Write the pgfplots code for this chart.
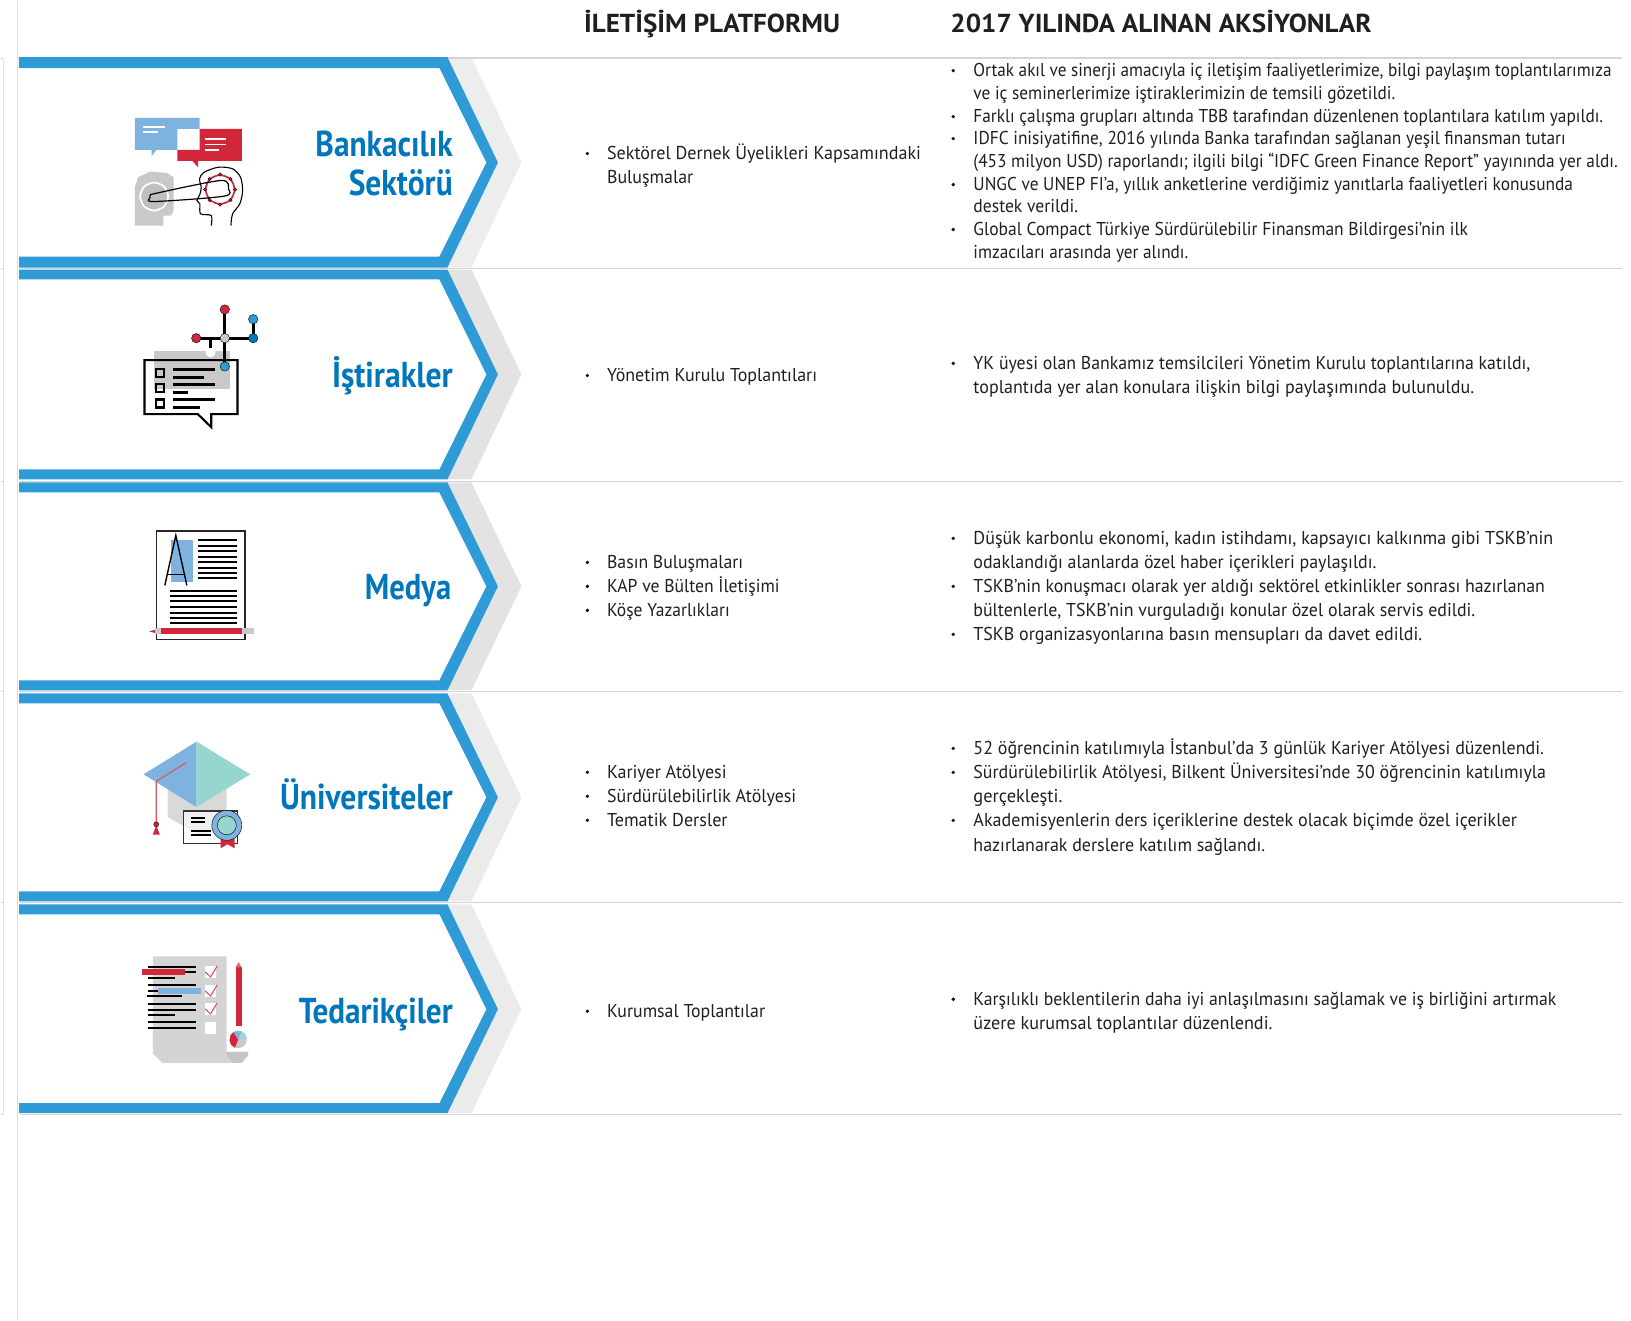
\documentclass[border=0pt]{standalone}
\usepackage{pgfplots}
\pgfplotsset{compat=1.18}
\usepackage{graphicx}
\usepackage{fontspec}
\setmainfont{PT Sans}
\newfontfamily\titlefont[FakeStretch=0.82]{PT Sans}
\newfontfamily\headfont{PT Sans}
\definecolor{barblue}{HTML}{2E9AD6}
\definecolor{textblue}{HTML}{0076BD}
\definecolor{lblue}{HTML}{7EB3E0}
\definecolor{tred}{HTML}{D2273A}
\definecolor{teal}{HTML}{97D5CF}
\definecolor{txt}{HTML}{1F1F1F}
\newcommand\poly[2]{\addplot[fill=#1,draw=none] coordinates {#2} --cycle;}
\newcommand\seg[2][black,line width=2.7pt]{\addplot[#1] coordinates {#2};}
\newcommand\dts[3]{\addplot[only marks,mark=*,mark size=#2,mark options={fill=#1,draw=none}] coordinates {#3};}
% #1 x, #2 baseline y, #3 right end of the line (in 1568-wide units), #4 text
\newcommand\tl[4]{\node[anchor=base west,inner sep=0pt,font=\fontsize{18.6}{22}\selectfont,text=txt] at (axis cs:#1,#2) {\pgfmathsetlengthmacro\tgtw{(#3*1.0402-#1)*1pt}\resizebox{\tgtw}{\height}{#4}};}
\newcommand\bul[2]{\dts{txt}{1.5}{(#1,#2)}}
\newcommand\ttl[4]{\node[anchor=base east,inner sep=0pt,font=\fontsize{36}{40}\titlefont\bfseries,text=textblue] at (axis cs:#1,#2) {\pgfmathsetlengthmacro\tgtw{#3*1.0402*1pt}\resizebox{\tgtw}{\height}{#4}};}
\newcommand\hd[4]{\node[anchor=base west,inner sep=0pt,font=\fontsize{26}{30}\headfont\bfseries,text=txt] at (axis cs:#1,#2) {\pgfmathsetlengthmacro\tgtw{#3*1.0402*1pt}\resizebox{\tgtw}{\height}{#4}};}
\begin{document}
\begin{tikzpicture}
\begin{axis}[width=1631pt,height=1320pt,scale only axis,hide axis,clip=false,
  xmin=0,xmax=1631,ymin=0,ymax=1320,y dir=reverse]
\path (axis cs:0,0) rectangle (axis cs:1631,1320);
% frame lines
\seg[black!13,line width=1.2pt]{(17,0)(17,1320)}
\seg[blue!12,line width=0.8pt]{(3,57)(3,1114)}
% gray chevrons
\poly{black!7}{(447,57)(471,57)(521,162)(471,267)(447,267)(497,162)}
\poly{black!11}{(447,269)(471,269)(521,374)(471,479)(447,479)(497,374)}
\poly{black!11}{(447,482)(471,482)(521,586)(471,690)(447,690)(497,586)}
\poly{black!8}{(447,693)(471,693)(521,797)(471,901)(447,901)(497,797)}
\poly{black!8}{(447,904)(471,904)(521,1009)(471,1113)(447,1113)(497,1009)}
% rules
\seg[black!17,line width=1.2pt]{(19,57.5)(1622,57.5)}
\seg[black!17,line width=1.2pt]{(19,268)(1622,268)}
\seg[black!17,line width=1.2pt]{(19,481)(1622,481)}
\seg[black!17,line width=1.2pt]{(19,691)(1622,691)}
\seg[black!17,line width=1.2pt]{(19,902)(1622,902)}
\seg[black!17,line width=1.2pt]{(19,1114)(1622,1114)}
\seg[black!17,line width=1.2pt]{(0,58)(3,58)}
\seg[black!17,line width=1.2pt]{(0,268)(3,268)}
\seg[black!17,line width=1.2pt]{(0,481)(3,481)}
\seg[black!17,line width=1.2pt]{(0,691)(3,691)}
\seg[black!17,line width=1.2pt]{(0,902)(3,902)}
\seg[black!17,line width=1.2pt]{(0,1114)(3,1114)}
% blue chevrons
\poly{barblue}{(18.5,56.5)(447,56.5)(497.5,162)(447,267)(18.5,267)(18.5,256)(439,256)(486,162)(439,67.5)(18.5,67.5)}
\poly{barblue}{(18.5,269)(447,269)(497.5,374)(447,479)(18.5,479)(18.5,469)(439,469)(486,374)(439,279)(18.5,279)}
\poly{barblue}{(18.5,482)(447,482)(497.5,586)(447,690)(18.5,690)(18.5,680)(439,680)(486,586)(439,492)(18.5,492)}
\poly{barblue}{(18.5,693)(447,693)(497.5,797)(447,901)(18.5,901)(18.5,891)(439,891)(486,797)(439,703)(18.5,703)}
\poly{barblue}{(18.5,904)(447,904)(497.5,1009)(447,1113)(18.5,1113)(18.5,1103)(439,1103)(486,1009)(439,914)(18.5,914)}
% icon 1
\poly{lblue}{(134.3,117.3)(199,117.3)(199,128.3)(176.8,128.3)(176.8,149.3)(156,149.3)(151,155.7)(151,149.3)(134.3,149.3)}
\poly{tred}{(199,128.3)(241.4,128.3)(241.4,160.3)(197.5,160.3)(197.5,166.7)(191.8,160.3)(176.8,160.3)(176.8,149.3)(199,149.3)}
\seg[white,line width=1.6pt]{(142,126.7)(164,126.7)}
\seg[white,line width=1.6pt]{(142,131.7)(157,131.7)}
\seg[white,line width=1.6pt]{(204,138.7)(225,138.7)}
\seg[white,line width=1.6pt]{(204,144)(225,144)}
\seg[white,line width=1.6pt]{(204,149.7)(218.6,149.7)}
\poly{black!21}{(134.3,225)(162.9,225)(162.9,215)(170.7,215)(173.2,210)(173.2,176.7)(166,172.3)(150,171)(137.5,176.7)(134.3,186.7)}
\addplot[white,fill=black!25,line width=1.8pt,smooth cycle] coordinates {(167.6,196)(163.5,186.1)(153.6,182)(143.7,186.1)(139.6,196)(143.7,205.9)(153.6,210)(163.5,205.9)};
\addplot[black,line width=1.1pt,smooth] coordinates {(210.7,225)(210.7,215)(200,213.3)(199.3,203.3)(196.4,200)(199.3,194)(200.7,186.7)(199,178.3)(203.6,171.7)(217.9,166.7)(232.1,168.3)(240,176.7)(242.1,190)(239.3,203.3)(232.1,213.3)(230.4,225)};
\addplot[tred,line width=1.7pt,smooth cycle] coordinates {(234.1,189)(229.9,178.7)(219.6,174.5)(209.3,178.7)(205.1,189)(209.3,199.3)(219.6,203.5)(229.9,199.3)};
\addplot[black,line width=1.2pt,smooth] coordinates {(150,194)(219.6,180)(227.9,188.3)(223.2,195.7)(153.6,201)(149.3,197.3)(150,194)};
\dts{tred}{1.7}{(219.6,174)(230,178.5)(234.6,189)(230,199.5)(219.6,204)(209,199.5)(204.6,189)(209,178.5)}
% icon 2
\poly{black!21}{(153,351)(229,351)(229,389)(153,389)}
\addplot[fill=white,draw=none,smooth cycle] coordinates {(215,351.7)(213.5,348.2)(210,346.7)(206.5,348.2)(205,351.7)(206.5,355.2)(210,356.7)(213.5,355.2)};
\addplot[black,line width=2.1pt] coordinates {(144,359.7)(237,359.7)(237,413.7)(210.7,413.7)(210.7,426.7)(197.3,413.7)(144,413.7)} --cycle;
\addplot[black,line width=2.1pt] coordinates {(155.7,368.3)(163.7,368.3)(163.7,376.3)(155.7,376.3)} --cycle;
\addplot[black,line width=2.1pt] coordinates {(155.7,383.3)(163.7,383.3)(163.7,391.3)(155.7,391.3)} --cycle;
\addplot[black,line width=2.1pt] coordinates {(155.7,399)(163.7,399)(163.7,407)(155.7,407)} --cycle;
\seg{(172,369.3)(214,369.3)}
\seg{(172,376.7)(203,376.7)}
\seg{(172,384.3)(214,384.3)}
\seg{(172,391.7)(187,391.7)}
\seg{(172,399.3)(214,399.3)}
\seg{(172,406.7)(199,406.7)}
\seg{(195.7,337.7)(252.7,337.7)}
\seg{(224.3,309)(224.3,366)}
\seg{(252.7,318.7)(252.7,337.7)}
\seg{(210,337.7)(210,348)}
\dts{black!21}{4.7}{(224.3,337.7)}
\dts{tred}{4.7}{(224.3,309)(195.7,337.7)}
\dts{barblue}{4.7}{(252.7,318.7)(224.3,366)}
\dts{textblue}{4.7}{(252.7,337.7)}
% icon 3
\addplot[black!85,line width=1.4pt] coordinates {(155.7,530.7)(244.3,530.7)(244.3,639.3)(155.7,639.3)} --cycle;
\poly{lblue}{(170,540)(192,540)(192,582)(170,582)}
\seg[black,line width=1.4pt]{(164.3,585)(175.3,535)(186.3,585)}
\seg[black,line width=1.4pt]{(167,574)(184.3,574)}
\seg[black,line width=1.9pt]{(197,539.7)(236,539.7)}
\seg[black,line width=1.9pt]{(197,545.7)(236,545.7)}
\seg[black,line width=1.9pt]{(197,551)(236,551)}
\seg[black,line width=1.9pt]{(197,556.7)(236,556.7)}
\seg[black,line width=1.9pt]{(197,562)(236,562)}
\seg[black,line width=1.9pt]{(197,567.7)(236,567.7)}
\seg[black,line width=1.9pt]{(197,573)(236,573)}
\seg[black,line width=1.9pt]{(197,578)(236,578)}
\seg[black,line width=1.9pt]{(169,590.7)(236,590.7)}
\seg[black,line width=1.9pt]{(169,595.7)(236,595.7)}
\seg[black,line width=1.9pt]{(169,601)(236,601)}
\seg[black,line width=1.9pt]{(169,607)(236,607)}
\seg[black,line width=1.9pt]{(169,612.7)(236,612.7)}
\seg[black,line width=1.9pt]{(169,617.3)(236,617.3)}
\seg[black,line width=1.9pt]{(169,622.7)(236,622.7)}
\poly{tred}{(160,628)(241,628)(241,634)(160,634)}
\poly{black!21}{(241,628)(253,628)(253,634)(241,634)}
\poly{black!21}{(154.3,628)(160,628)(160,634)(154.3,634)}
\poly{tred}{(154.3,629.5)(154.3,632.5)(148.3,631)}
% icon 4
\poly{black!15}{(167,788)(196,806.7)(226,788)(226,820)(210,833.3)(196,833.3)(167,816.7)}
\poly{lblue}{(143,774)(196,741.3)(196,806.7)}
\poly{teal}{(196,741.3)(249.7,774)(196,806.7)}
\seg[tred!80,line width=1.1pt]{(185.7,762.3)(155.7,781)(155.7,825)}
\dts{tred}{2.5}{(155.7,824)}
\poly{tred}{(155.7,825)(159.3,834.3)(152.3,834.3)}
\addplot[black!80,line width=1.3pt,fill=white,fill opacity=0.6] coordinates {(182.7,810.7)(237,810.7)(237,843.3)(182.7,843.3)} --cycle;
\seg[black,line width=1.9pt]{(190,818)(204,818)}
\seg[black,line width=1.9pt]{(190,822)(204,822)}
\seg[black,line width=1.9pt]{(190,830.7)(210,830.7)}
\seg[black,line width=1.9pt]{(190,835)(210,835)}
\poly{tred}{(220,837.3)(234,837.3)(234,848)(227,844)(220,848)}
\dts{lblue}{15}{(226.3,825)}
\dts{teal}{9.5}{(226.3,825)}
% icon 5
\poly{black!17}{(152.3,956)(226,956)(226,1051.7)(247.7,1051.7)(247.7,1055)(240,1062.7)(161.7,1062.7)(152.3,1053.3)}
\poly{black!23}{(226,1051.7)(247.7,1051.7)(247.7,1055)(241,1062.7)(233,1062.7)(226,1055)}
\seg[black,line width=1.9pt]{(147,967)(195,967)}
\seg[black,line width=1.9pt]{(147,972)(195,972)}
\seg[black,line width=1.9pt]{(147,985)(195,985)}
\seg[black,line width=1.9pt]{(147,991)(195,991)}
\seg[black,line width=1.9pt]{(147,1004)(195,1004)}
\seg[black,line width=1.9pt]{(147,1010)(195,1010)}
\seg[black,line width=1.9pt]{(147,1022)(195,1022)}
\seg[black,line width=1.9pt]{(147,1028)(195,1028)}
\seg[black,line width=1.9pt]{(147,978)(174,978)}
\seg[black,line width=1.9pt]{(146,996)(181,996)}
\seg[black,line width=1.9pt]{(147,1015)(174,1015)}
\poly{tred}{(141,969)(184,969)(184,975)(141,975)}
\poly{lblue}{(157,988)(200,988)(200,994)(157,994)}
\poly{white}{(204,966)(215,966)(215,978)(204,978)}
\poly{white}{(204,985)(215,985)(215,997)(204,997)}
\poly{white}{(204,1003)(215,1003)(215,1015)(204,1015)}
\poly{white}{(204,1022)(215,1022)(215,1034)(204,1034)}
\seg[tred!85,line width=1pt]{(204.7,971.7)(210,976.7)(216.7,965.7)}
\seg[tred!85,line width=1pt]{(204.7,990.7)(210,995.7)(216.7,984.7)}
\seg[tred!85,line width=1pt]{(204.7,1008.7)(210,1013.7)(216.7,1002.7)}
\poly{tred}{(235,967)(241,967)(241,1026)(235,1026)}
\poly{tred!70}{(235,967)(238,961.7)(241,967)}
\addplot[fill=black!21,draw=none,smooth cycle] coordinates {(246.4,1039.3)(243.9,1033.1)(237.7,1030.6)(231.5,1033.1)(229,1039.3)(231.5,1045.5)(237.7,1048)(243.9,1045.5)};
\poly{tred}{(237.7,1039.3)(233,1031.8)(230,1035)(229,1040)(230.5,1044.5)(234.5,1047.5)}
\poly{lblue}{(237.7,1039.3)(233,1031.8)(237,1030.6)(241,1031.2)}
\poly{teal}{(237.7,1039.3)(241,1031.2)(245,1034.5)(246.3,1038)}
% headers
\hd{583.6}{32}{246}{İLETİŞİM PLATFORMU}
\hd{950}{32}{405}{2017 YILINDA ALINAN AKSİYONLAR}
% titles
\ttl{452.5}{156}{132}{Bankacılık}
\ttl{452.5}{195}{100}{Sektörü}
\ttl{452.5}{387.5}{116}{İştirakler}
\ttl{451}{599}{83}{Medya}
\ttl{452.5}{809}{166}{Üniversiteler}
\ttl{452.5}{1023.5}{148}{Tedarikçiler}
% column 2
\bul{587}{153}\tl{606.5}{159}{885}{Sektörel Dernek Üyelikleri Kapsamındaki}
\tl{606.5}{183}{666}{Buluşmalar}
\bul{587}{375}\tl{606.5}{381}{785}{Yönetim Kurulu Toplantıları}
\bul{587}{562}\tl{606.5}{568}{714}{Basın Buluşmaları}
\bul{587}{586}\tl{606.5}{592}{749}{KAP ve Bülten İletişimi}
\bul{587}{610}\tl{606.5}{616}{701}{Köşe Yazarlıkları}
\bul{587}{772}\tl{606.5}{778}{698}{Kariyer Atölyesi}
\bul{587}{796}\tl{606.5}{802}{765}{Sürdürülebilirlik Atölyesi}
\bul{587}{820}\tl{606.5}{826}{699}{Tematik Dersler}
\bul{587}{1011}\tl{606.5}{1017}{735}{Kurumsal Toplantılar}
% column 3
\bul{953}{70}\tl{973}{76}{1549}{Ortak akıl ve sinerji amacıyla iç iletişim faaliyetlerimize, bilgi paylaşım toplantılarımıza}
\tl{973}{99}{1341}{ve iç seminerlerimize iştiraklerimizin de temsili gözetildi.}
\bul{953}{116}\tl{973}{122}{1541}{Farklı çalışma grupları altında TBB tarafından düzenlenen toplantılara katılım yapıldı.}
\bul{953}{138}\tl{973}{144}{1505}{IDFC inisiyatifine, 2016 yılında Banka tarafından sağlanan yeşil finansman tutarı}
\tl{973}{167}{1555}{(453 milyon USD) raporlandı; ilgili bilgi “IDFC Green Finance Report” yayınında yer aldı.}
\bul{953}{184}\tl{973}{190}{1512}{UNGC ve UNEP FI’a, yıllık anketlerine verdiğimiz yanıtlarla faaliyetleri konusunda}
\tl{973}{212}{1036}{destek verildi.}
\bul{953}{229}\tl{973}{235}{1411}{Global Compact Türkiye Sürdürülebilir Finansman Bildirgesi’nin ilk}
\tl{973}{258}{1142}{imzacıları arasında yer alındı.}
\bul{953}{363}\tl{973}{369}{1471}{YK üyesi olan Bankamız temsilcileri Yönetim Kurulu toplantılarına katıldı,}
\tl{973}{393}{1417}{toplantıda yer alan konulara ilişkin bilgi paylaşımında bulunuldu.}
\bul{953}{538}\tl{973}{544}{1493}{Düşük karbonlu ekonomi, kadın istihdamı, kapsayıcı kalkınma gibi TSKB’nin}
\tl{973}{568}{1323}{odaklandığı alanlarda özel haber içerikleri paylaşıldı.}
\bul{953}{586}\tl{973}{592}{1485}{TSKB’nin konuşmacı olarak yer aldığı sektörel etkinlikler sonrası hazırlanan}
\tl{973}{616}{1418}{bültenlerle, TSKB’nin vurguladığı konular özel olarak servis edildi.}
\bul{953}{634}\tl{973}{640}{1367}{TSKB organizasyonlarına basın mensupları da davet edildi.}
\bul{953}{748}\tl{973}{754}{1484}{52 öğrencinin katılımıyla İstanbul’da 3 günlük Kariyer Atölyesi düzenlendi.}
\bul{953}{772}\tl{973}{778}{1486}{Sürdürülebilirlik Atölyesi, Bilkent Üniversitesi’nde 30 öğrencinin katılımıyla}
\tl{973}{802}{1021}{gerçekleşti.}
\bul{953}{820}\tl{973}{826}{1458}{Akademisyenlerin ders içeriklerine destek olacak biçimde özel içerikler}
\tl{973}{851}{1216}{hazırlanarak derslere katılım sağlandı.}
\bul{953}{999}\tl{973}{1005}{1496}{Karşılıklı beklentilerin daha iyi anlaşılmasını sağlamak ve iş birliğini artırmak}
\tl{973}{1029}{1223}{üzere kurumsal toplantılar düzenlendi.}
\end{axis}
\end{tikzpicture}
\end{document}
